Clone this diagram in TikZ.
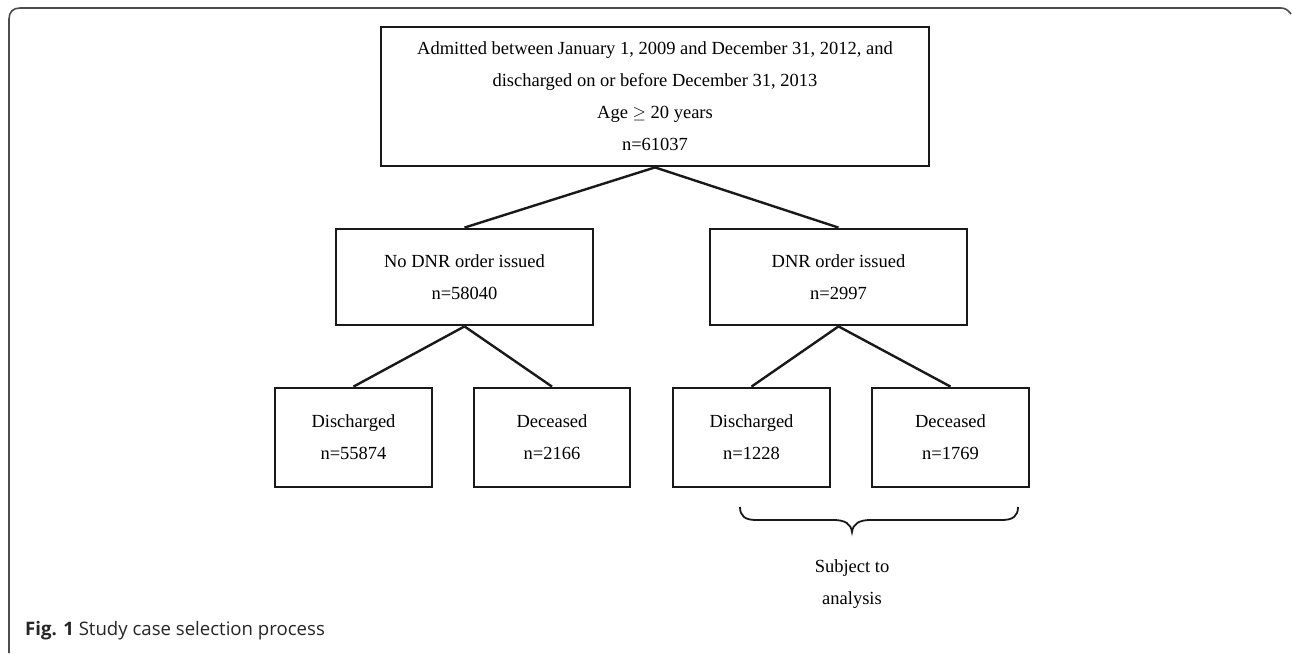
\documentclass[tikz,border=0pt]{standalone}
\usepackage{fontspec}
\setmainfont{Liberation Serif}
\newfontfamily\capfont{Open Sans}
\usepackage{amssymb}
\begin{document}
\begin{tikzpicture}[x=1pt,y=-1pt,
  box/.style={draw=black!90, line width=2.8pt, align=center, inner sep=0pt,
    font=\fontsize{18.5}{32}\selectfont},
  link/.style={draw=black!90, line width=2.4pt},
  frameline/.style={draw=black!70, line width=1.6pt}]
\useasboundingbox (0,0) rectangle (1292,653);
\fill[white] (0,0) rectangle (1292,653);
\draw[frameline] (9,653) -- (9,19) .. controls (9,12) and (13,8) .. (20,8) -- (1281,8)
  .. controls (1285,8) and (1288,10) .. (1291,14);
\node[box, minimum width=548pt, minimum height=139pt] (top) at (655,96.5)
  {Admitted between January 1, 2009 and December 31, 2012, and\\
   discharged on or before December 31, 2013\\
   Age $\geq$ 20 years\\
   n=61037};
\node[box, minimum width=257pt, minimum height=96pt] (nodnr) at (464.5,277)
  {No DNR order issued\\ n=58040};
\node[box, minimum width=257pt, minimum height=96pt] (dnr) at (838.5,277)
  {DNR order issued\\ n=2997};
\node[box, minimum width=157pt, minimum height=99pt] (d1) at (353.5,437.5)
  {Discharged\\ n=55874};
\node[box, minimum width=156pt, minimum height=99pt] (x1) at (552,437.5)
  {Deceased\\ n=2166};
\node[box, minimum width=157pt, minimum height=99pt] (d2) at (751.5,437.5)
  {Discharged\\ n=1228};
\node[box, minimum width=157pt, minimum height=99pt] (x2) at (950.5,437.5)
  {Deceased\\ n=1769};
\draw[link] (top.south) -- (nodnr.north);
\draw[link] (top.south) -- (dnr.north);
\draw[link] (nodnr.south) -- (d1.north);
\draw[link] (nodnr.south) -- (x1.north);
\draw[link] (dnr.south) -- (d2.north);
\draw[link] (dnr.south) -- (x2.north);
\coordinate (bl) at (740,507);
\coordinate (bt) at (852,532);
\coordinate (br) at (1018,507);
\draw[black!90, line width=1.8pt] (bl) .. controls (740,516) and (745,520) .. (756,520) -- (834,520)
  .. controls (845,520) and (851,524) .. (bt)
  .. controls (853,524) and (859,520) .. (870,520) -- (1002,520)
  .. controls (1013,520) and (1018,516) .. (br);
\node[align=center, font=\fontsize{18.5}{32}\selectfont] (subj) at (852,584) {Subject to\\ analysis};
\node[anchor=base west, inner sep=0pt, font=\capfont\fontsize{18.6}{20}\selectfont, text=black!85] (cap) at (25,635)
  {\textbf{Fig. 1} Study case selection process};
\end{tikzpicture}
\end{document}
